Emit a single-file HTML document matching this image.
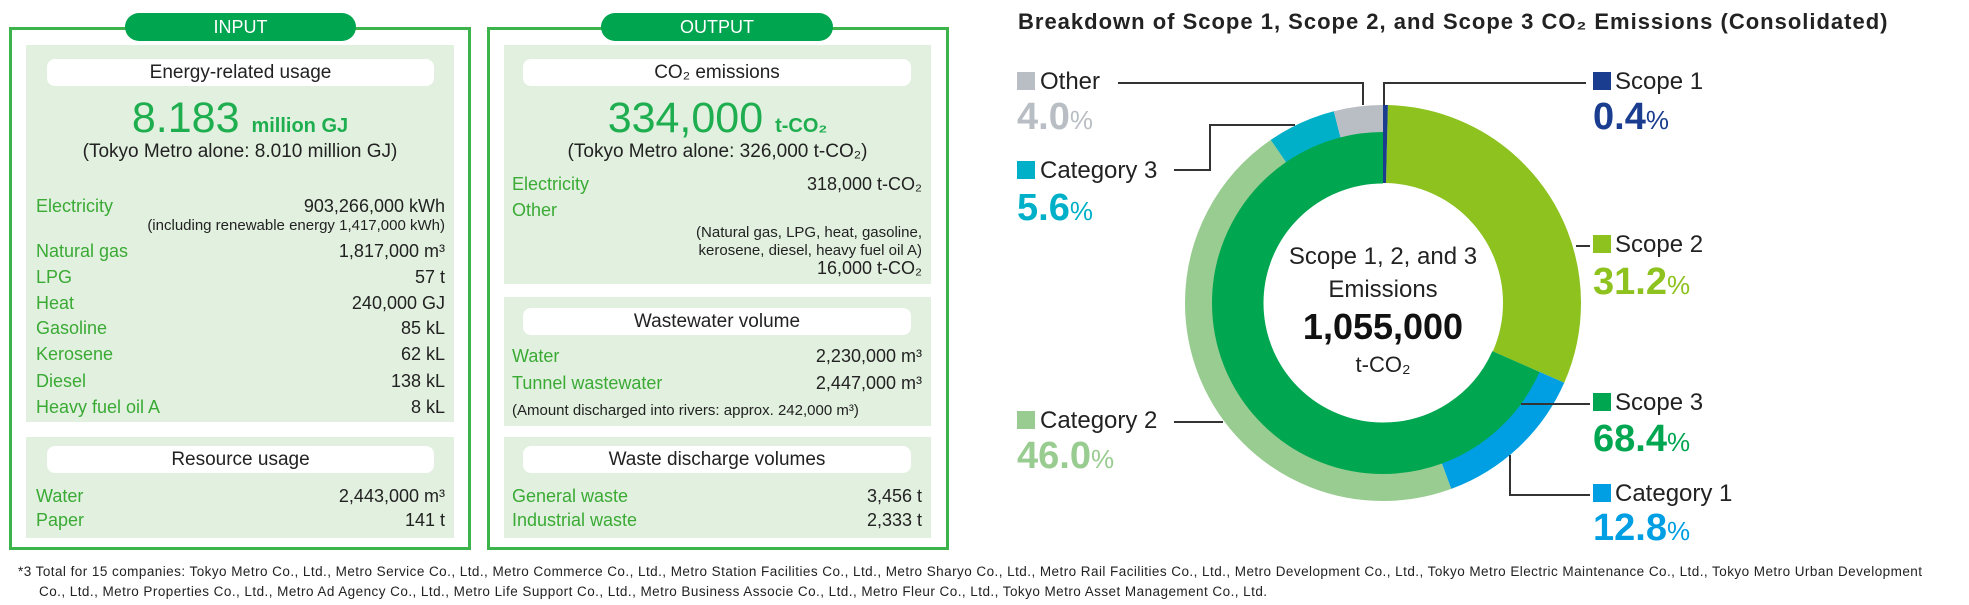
<!DOCTYPE html>
<html><head><meta charset="utf-8"><style>
*{margin:0;padding:0;box-sizing:border-box}
body{width:1969px;height:605px;background:#fff;font-family:"Liberation Sans",sans-serif;position:relative;overflow:hidden;color:#222}
.a{position:absolute;white-space:nowrap}
.box{position:absolute;border:3px solid #3cb44b;background:#fff}
.tab{position:absolute;background:#00a54f;color:#fff;font-size:18px;text-align:center;line-height:28px;border-radius:14px;height:28px}
.pan{position:absolute;background:#e2f1df}
.pill{position:absolute;background:#fff;border-radius:8px;text-align:center;font-size:19px;line-height:27px;height:27px;color:#222}
.lab{color:#3aaa35;font-size:18px}
.val{font-size:18px;text-align:right}
.sm{font-size:15px;text-align:right}
.big{color:#1fae4f;font-size:43px;text-align:center}
.big span{font-size:20px;font-weight:bold}
.sub{font-size:19px;text-align:center}
.lg{font-size:24px;color:#222}
.pc{font-size:38px;font-weight:bold}
.pc span{font-size:26px;font-weight:normal}
.sq{position:absolute;width:18px;height:18px}
</style></head><body>

<div class="box" style="left:9px;top:27px;width:462px;height:523px"></div>
<div class="tab" style="left:125px;top:13px;width:231px">INPUT</div>
<div class="pan" style="left:26px;top:45px;width:428px;height:377px"></div>
<div class="pill" style="left:47px;top:59px;width:387px">Energy-related usage</div>
<div class="a big" style="left:26px;width:428px;top:94px">8.183 <span>million GJ</span></div>
<div class="a sub" style="left:26px;width:428px;top:141px">(Tokyo Metro alone: 8.010 million GJ)</div>
<div class="a lab" style="left:36px;top:196px">Electricity</div><div class="a val" style="right:1524px;top:196px">903,266,000 kWh</div>
<div class="a sm" style="right:1524px;top:217px">(including renewable energy 1,417,000 kWh)</div>
<div class="a lab" style="left:36px;top:241px">Natural gas</div><div class="a val" style="right:1524px;top:241px">1,817,000 m³</div>
<div class="a lab" style="left:36px;top:267px">LPG</div><div class="a val" style="right:1524px;top:267px">57 t</div>
<div class="a lab" style="left:36px;top:293px">Heat</div><div class="a val" style="right:1524px;top:293px">240,000 GJ</div>
<div class="a lab" style="left:36px;top:318px">Gasoline</div><div class="a val" style="right:1524px;top:318px">85 kL</div>
<div class="a lab" style="left:36px;top:344px">Kerosene</div><div class="a val" style="right:1524px;top:344px">62 kL</div>
<div class="a lab" style="left:36px;top:371px">Diesel</div><div class="a val" style="right:1524px;top:371px">138 kL</div>
<div class="a lab" style="left:36px;top:397px">Heavy fuel oil A</div><div class="a val" style="right:1524px;top:397px">8 kL</div>
<div class="pan" style="left:26px;top:437px;width:428px;height:101px"></div>
<div class="pill" style="left:47px;top:446px;width:387px">Resource usage</div>
<div class="a lab" style="left:36px;top:486px">Water</div><div class="a val" style="right:1524px;top:486px">2,443,000 m³</div>
<div class="a lab" style="left:36px;top:510px">Paper</div><div class="a val" style="right:1524px;top:510px">141 t</div>

<div class="box" style="left:487px;top:27px;width:462px;height:523px"></div>
<div class="tab" style="left:601px;top:13px;width:232px">OUTPUT</div>
<div class="pan" style="left:504px;top:45px;width:427px;height:239px"></div>
<div class="pill" style="left:523px;top:59px;width:388px">CO₂ emissions</div>
<div class="a big" style="left:504px;width:427px;top:94px">334,000 <span>t-CO₂</span></div>
<div class="a sub" style="left:504px;width:427px;top:141px">(Tokyo Metro alone: 326,000 t-CO₂)</div>
<div class="a lab" style="left:512px;top:174px">Electricity</div><div class="a val" style="right:1047px;top:174px">318,000 t-CO₂</div>
<div class="a lab" style="left:512px;top:200px">Other</div>
<div class="a sm" style="right:1047px;top:224px">(Natural gas, LPG, heat, gasoline,</div>
<div class="a sm" style="right:1047px;top:242px">kerosene, diesel, heavy fuel oil A)</div>
<div class="a val" style="right:1047px;top:258px">16,000 t-CO₂</div>
<div class="pan" style="left:504px;top:297px;width:427px;height:129px"></div>
<div class="pill" style="left:523px;top:308px;width:388px">Wastewater volume</div>
<div class="a lab" style="left:512px;top:346px">Water</div><div class="a val" style="right:1047px;top:346px">2,230,000 m³</div>
<div class="a lab" style="left:512px;top:373px">Tunnel wastewater</div><div class="a val" style="right:1047px;top:373px">2,447,000 m³</div>
<div class="a" style="left:512px;top:402px;font-size:15px">(Amount discharged into rivers: approx. 242,000 m³)</div>
<div class="pan" style="left:504px;top:437px;width:427px;height:101px"></div>
<div class="pill" style="left:523px;top:446px;width:388px">Waste discharge volumes</div>
<div class="a lab" style="left:512px;top:486px">General waste</div><div class="a val" style="right:1047px;top:486px">3,456 t</div>
<div class="a lab" style="left:512px;top:510px">Industrial waste</div><div class="a val" style="right:1047px;top:510px">2,333 t</div>

<div class="a" style="left:18px;top:564px;font-size:13.5px;letter-spacing:0.45px">*3 Total for 15 companies: Tokyo Metro Co., Ltd., Metro Service Co., Ltd., Metro Commerce Co., Ltd., Metro Station Facilities Co., Ltd., Metro Sharyo Co., Ltd., Metro Rail Facilities Co., Ltd., Metro Development Co., Ltd., Tokyo Metro Electric Maintenance Co., Ltd., Tokyo Metro Urban Development</div>
<div class="a" style="left:39px;top:584px;font-size:13.5px;letter-spacing:0.45px">Co., Ltd., Metro Properties Co., Ltd., Metro Ad Agency Co., Ltd., Metro Life Support Co., Ltd., Metro Business Associe Co., Ltd., Metro Fleur Co., Ltd., Tokyo Metro Asset Management Co., Ltd.</div>

<div class="a" style="left:1018px;top:9px;font-size:22px;letter-spacing:1px;font-weight:bold;color:#222">Breakdown of Scope 1, Scope 2, and Scope 3 CO₂ Emissions (Consolidated)</div>

<svg class="a" style="left:0;top:0" width="1969" height="605">
<g transform="rotate(-90 1383 303)" fill="none">
<circle cx="1383" cy="303" r="159" stroke="#8dc21f" stroke-width="78" pathLength="100" stroke-dasharray="31.2 200" stroke-dashoffset="-0.4"/>
<circle cx="1383" cy="303" r="159" stroke="#1a3d8f" stroke-width="78" pathLength="100" stroke-dasharray="0.4 200" stroke-dashoffset="0"/>
<circle cx="1383" cy="303" r="145.5" stroke="#00a650" stroke-width="52" pathLength="100" stroke-dasharray="68.4 200" stroke-dashoffset="-31.6"/>
<circle cx="1383" cy="303" r="184.5" stroke="#009fe3" stroke-width="27" pathLength="100" stroke-dasharray="12.8 200" stroke-dashoffset="-31.6"/>
<circle cx="1383" cy="303" r="184.5" stroke="#99cc90" stroke-width="27" pathLength="100" stroke-dasharray="46 200" stroke-dashoffset="-44.4"/>
<circle cx="1383" cy="303" r="184.5" stroke="#00b0c8" stroke-width="27" pathLength="100" stroke-dasharray="5.6 200" stroke-dashoffset="-90.4"/>
<circle cx="1383" cy="303" r="184.5" stroke="#b9bec4" stroke-width="27" pathLength="100" stroke-dasharray="4 200" stroke-dashoffset="-96"/>
</g>
<g fill="none" stroke="#333" stroke-width="2">
<polyline points="1118,83 1363,83 1363,105"/>
<polyline points="1586,83 1384,83 1384,105"/>
<polyline points="1174,170 1210,170 1210,125 1295,125"/>
<line x1="1174" y1="422" x2="1223" y2="422"/>
<line x1="1576" y1="246" x2="1590" y2="246"/>
<line x1="1521" y1="404" x2="1590" y2="404"/>
<polyline points="1510,455 1510,495 1590,495"/>
</g>
<text x="1383" y="264" font-family="Liberation Sans" font-size="24" text-anchor="middle" fill="#222">Scope 1, 2, and 3</text>
<text x="1383" y="297" font-family="Liberation Sans" font-size="24" text-anchor="middle" fill="#222">Emissions</text>
<text x="1383" y="339" font-family="Liberation Sans" font-size="36" font-weight="bold" text-anchor="middle" fill="#111">1,055,000</text>
<text x="1383" y="372" font-family="Liberation Sans" font-size="22" text-anchor="middle" fill="#222">t-CO₂</text>
</svg>

<div class="sq" style="left:1017px;top:72px;background:#b9bec4"></div>
<div class="a lg" style="left:1040px;top:68px">Other</div>
<div class="a pc" style="left:1017px;top:96px;color:#b9bec4">4.0<span>%</span></div>
<div class="sq" style="left:1017px;top:161px;background:#00b0c8"></div>
<div class="a lg" style="left:1040px;top:157px">Category 3</div>
<div class="a pc" style="left:1017px;top:187px;color:#00b0c8">5.6<span>%</span></div>
<div class="sq" style="left:1017px;top:411px;background:#99cc90"></div>
<div class="a lg" style="left:1040px;top:407px">Category 2</div>
<div class="a pc" style="left:1017px;top:435px;color:#99cc90">46.0<span>%</span></div>

<div class="sq" style="left:1593px;top:72px;background:#1a3d8f"></div>
<div class="a lg" style="left:1615px;top:68px">Scope 1</div>
<div class="a pc" style="left:1593px;top:96px;color:#1a3d8f">0.4<span>%</span></div>
<div class="sq" style="left:1593px;top:235px;background:#8dc21f"></div>
<div class="a lg" style="left:1615px;top:231px">Scope 2</div>
<div class="a pc" style="left:1593px;top:261px;color:#8dc21f">31.2<span>%</span></div>
<div class="sq" style="left:1593px;top:393px;background:#00a650"></div>
<div class="a lg" style="left:1615px;top:389px">Scope 3</div>
<div class="a pc" style="left:1593px;top:418px;color:#00a650">68.4<span>%</span></div>
<div class="sq" style="left:1593px;top:484px;background:#009fe3"></div>
<div class="a lg" style="left:1615px;top:480px">Category 1</div>
<div class="a pc" style="left:1593px;top:507px;color:#009fe3">12.8<span>%</span></div>
</body></html>
